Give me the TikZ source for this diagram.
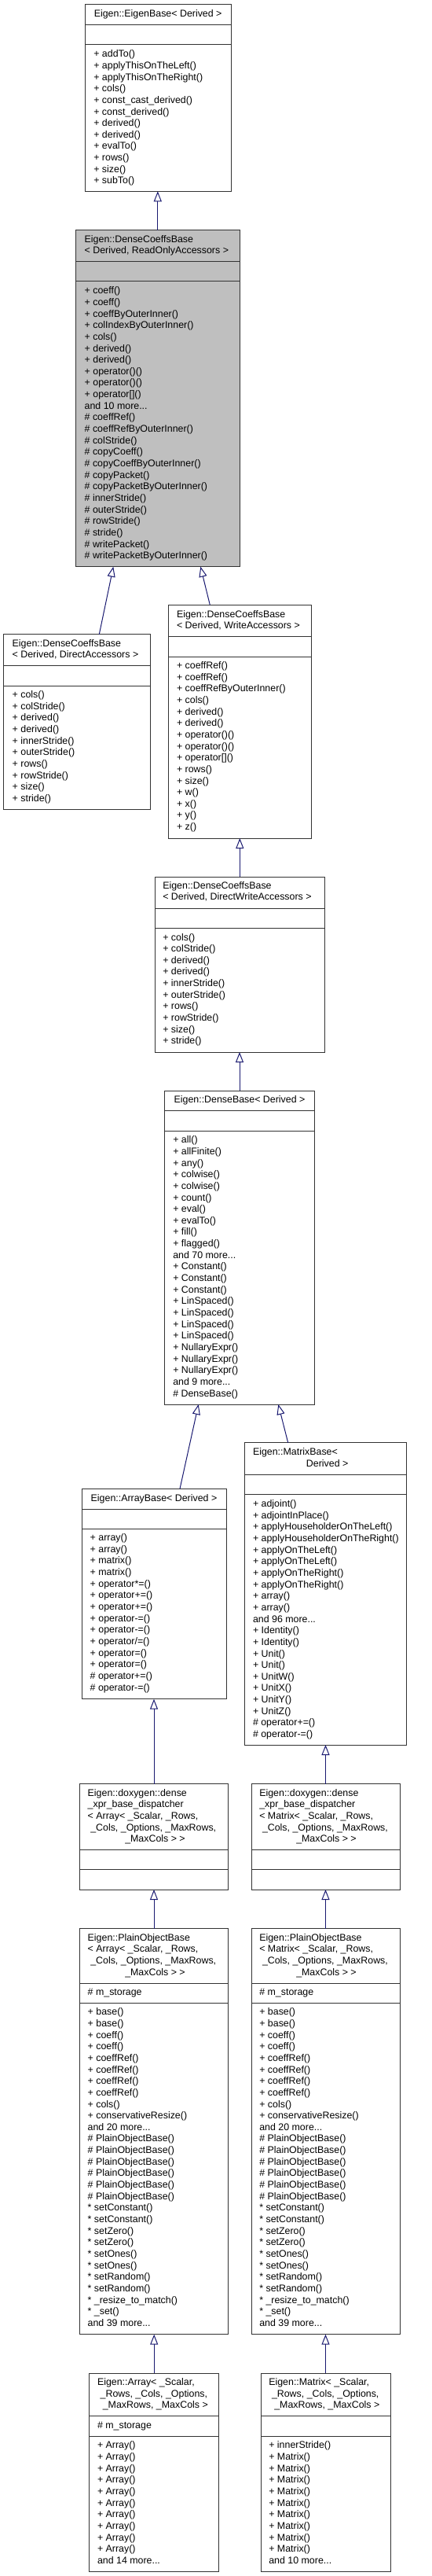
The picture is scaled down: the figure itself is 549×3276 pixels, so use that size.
\documentclass[tikz,border=0pt]{standalone}
\usepackage{fontspec}
\setmainfont{Liberation Sans}
\usetikzlibrary{arrows.meta}
\definecolor{mnb}{HTML}{191970}
\definecolor{hl}{HTML}{BFBFBF}
\definecolor{bline}{HTML}{333333}
\newcommand\mydots{...}
\tikzset{
  clsbox/.style={draw=bline, line width=1pt, inner sep=0pt, outer sep=0pt, anchor=north west},
  divline/.style={draw=bline, line width=1pt},
  txt/.style={inner sep=0pt, outer sep=0pt, text height=9pt, text depth=2.6pt, font=\fontsize{12.4}{14}\selectfont, anchor=west},
  ctxt/.style={txt, anchor=center},
  inh/.style={draw=mnb, line width=1pt, -{Triangle[open, length=13pt, width=10pt]}},
}
% name, left, right, top, div1, div2, bottom, fill
\newcommand\umlbox[8]{%
  \pgfmathsetmacro\bw{#3-#2}\pgfmathsetmacro\bh{#7-#4}%
  \node[clsbox, fill=#8, minimum width=\bw pt, minimum height=\bh pt] (#1) at (#2,#4) {};
  \draw[divline] (#2,#5) -- (#3,#5) (#2,#6) -- (#3,#6);
}
% prefix, x, y0, list
\newcommand\mlist[4]{%
  \foreach \ml [count=\i from 0] in {#4} { \node[txt] (#1-\i) at (#2, {#3+\i*14.66}) {\ml}; }
}
\begin{document}
\begin{tikzpicture}[x=1pt, y=-1pt]
\fill[white] (0,0) rectangle (549,3276);
\useasboundingbox (0,0) rectangle (549,3276);

% A: EigenBase
\umlbox{A}{108.3}{294}{5.7}{31.7}{57}{243.3}{white}
\node[ctxt] (A-t) at (201.15,18) {Eigen::EigenBase< Derived >};
\mlist{A}{119.3}{69.5}{+ addTo(), + applyThisOnTheLeft(), + applyThisOnTheRight(), + cols(), + const\_cast\_derived(), + const\_derived(), + derived(), + derived(), + evalTo(), + rows(), + size(), + subTo()}

% B: DenseCoeffsBase ReadOnly
\umlbox{B}{96.3}{305.3}{292.7}{332.3}{357.7}{720.7}{hl}
\node[txt] (B-t1) at (107.7,305.2) {Eigen::DenseCoeffsBase};
\node[txt] (B-t2) at (107.7,319.2) {< Derived, ReadOnlyAccessors >};
\mlist{B}{107.7}{370.5}{+ coeff(), + coeff(), + coeffByOuterInner(), + colIndexByOuterInner(), + cols(), + derived(), + derived(), + operator()(), + operator()(), + operator[](), and 10 more\mydots, \# coeffRef(), \# coeffRefByOuterInner(), \# colStride(), \# copyCoeff(), \# copyCoeffByOuterInner(), \# copyPacket(), \# copyPacketByOuterInner(), \# innerStride(), \# outerStride(), \# rowStride(), \# stride(), \# writePacket(), \# writePacketByOuterInner()}

% C: DirectAccessors
\umlbox{C}{4.3}{191.7}{806.7}{846.3}{872}{1029.3}{white}
\node[txt] (C-t1) at (15.7,819.2) {Eigen::DenseCoeffsBase};
\node[txt] (C-t2) at (15.7,833.2) {< Derived, DirectAccessors >};
\mlist{C}{15.7}{884.2}{+ cols(), + colStride(), + derived(), + derived(), + innerStride(), + outerStride(), + rows(), + rowStride(), + size(), + stride()}

% D: WriteAccessors
\umlbox{D}{214.3}{396}{769.3}{809.3}{835}{1066}{white}
\node[txt] (D-t1) at (225,781.8) {Eigen::DenseCoeffsBase};
\node[txt] (D-t2) at (225,796.7) {< Derived, WriteAccessors >};
\mlist{D}{225}{847.2}{+ coeffRef(), + coeffRef(), + coeffRefByOuterInner(), + cols(), + derived(), + derived(), + operator()(), + operator()(), + operator[](), + rows(), + size(), + w(), + x(), + y(), + z()}

% E: DirectWriteAccessors
\umlbox{E}{197.3}{413.3}{1115}{1155}{1180.7}{1338}{white}
\node[txt] (E-t1) at (207.3,1127.2) {Eigen::DenseCoeffsBase};
\node[txt] (E-t2) at (207.3,1141.7) {< Derived, DirectWriteAccessors >};
\mlist{E}{207.3}{1192.8}{+ cols(), + colStride(), + derived(), + derived(), + innerStride(), + outerStride(), + rows(), + rowStride(), + size(), + stride()}

% F: DenseBase
\umlbox{F}{209.7}{400.3}{1387}{1412.7}{1438}{1786}{white}
\node[ctxt] (F-t) at (305,1398.8) {Eigen::DenseBase< Derived >};
\mlist{F}{220.3}{1450.5}{+ all(), + allFinite(), + any(), + colwise(), + colwise(), + count(), + eval(), + evalTo(), + fill(), + flagged(), and 70 more\mydots, + Constant(), + Constant(), + Constant(), + LinSpaced(), + LinSpaced(), + LinSpaced(), + LinSpaced(), + NullaryExpr(), + NullaryExpr(), + NullaryExpr(), and 9 more\mydots, \# DenseBase()}

% G: ArrayBase
\umlbox{G}{104}{288}{1893.3}{1919}{1944.7}{2160.7}{white}
\node[ctxt] (G-t) at (196,1906.2) {Eigen::ArrayBase< Derived >};
\mlist{G}{114.7}{1956.2}{+ array(), + array(), + matrix(), + matrix(), + operator*=(), + operator+=(), + operator+=(), + operator-=(), + operator-=(), + operator/=(), + operator=(), + operator=(), \# operator+=(), \# operator-=()}

% H: MatrixBase
\umlbox{H}{311.3}{517.3}{1834.7}{1875}{1900.3}{2219}{white}
\node[txt] (H-t1) at (322,1847.2) {Eigen::MatrixBase<};
\node[ctxt] (H-t2) at (416.7,1862.2) {Derived >};
\mlist{H}{322}{1913.2}{+ adjoint(), + adjointInPlace(), + applyHouseholderOnTheLeft(), + applyHouseholderOnTheRight(), + applyOnTheLeft(), + applyOnTheLeft(), + applyOnTheRight(), + applyOnTheRight(), + array(), + array(), and 96 more\mydots, + Identity(), + Identity(), + Unit(), + Unit(), + UnitW(), + UnitX(), + UnitY(), + UnitZ(), \# operator+=(), \# operator-=()}

% I: dispatcher Array
\umlbox{I}{101.3}{290.7}{2268.7}{2352.7}{2377.7}{2403}{white}
\node[txt] (I-t1) at (111.7,2281.2) {Eigen::doxygen::dense};
\node[txt] (I-t2) at (111.7,2295.2) {\_xpr\_base\_dispatcher};
\node[txt] (I-t3) at (111.7,2310.2) {< Array< \_Scalar, \_Rows,};
\node[txt] (I-t4) at (115.3,2325.2) {\_Cols, \_Options, \_MaxRows,};
\node[ctxt] (I-t5) at (197.5,2339.2) {\_MaxCols > >};

% J: dispatcher Matrix
\umlbox{J}{320}{509}{2268.7}{2352.7}{2377.7}{2403}{white}
\node[txt] (J-t1) at (330.3,2281.2) {Eigen::doxygen::dense};
\node[txt] (J-t2) at (330.3,2295.2) {\_xpr\_base\_dispatcher};
\node[txt] (J-t3) at (330.3,2310.2) {< Matrix< \_Scalar, \_Rows,};
\node[txt] (J-t4) at (334,2325.2) {\_Cols, \_Options, \_MaxRows,};
\node[ctxt] (J-t5) at (415.5,2339.2) {\_MaxCols > >};

% K: PlainObjectBase Array
\umlbox{K}{101.3}{290.7}{2452.7}{2522}{2547.3}{2968.7}{white}
\node[txt] (K-t1) at (111.7,2464.8) {Eigen::PlainObjectBase};
\node[txt] (K-t2) at (111.7,2479.2) {< Array< \_Scalar, \_Rows,};
\node[txt] (K-t3) at (115.3,2493.8) {\_Cols, \_Options, \_MaxRows,};
\node[ctxt] (K-t4) at (197.5,2508.8) {\_MaxCols > >};
\node[txt] (K-a) at (111.7,2534.2) {\# m\_storage};
\mlist{K}{111.7}{2559.5}{+ base(), + base(), + coeff(), + coeff(), + coeffRef(), + coeffRef(), + coeffRef(), + coeffRef(), + cols(), + conservativeResize(), and 20 more\mydots, \# PlainObjectBase(), \# PlainObjectBase(), \# PlainObjectBase(), \# PlainObjectBase(), \# PlainObjectBase(), \# PlainObjectBase(), * setConstant(), * setConstant(), * setZero(), * setZero(), * setOnes(), * setOnes(), * setRandom(), * setRandom(), * \_resize\_to\_match(), * \_set(), and 39 more\mydots}

% L: PlainObjectBase Matrix
\umlbox{L}{320}{509}{2452.7}{2522}{2547.3}{2968.7}{white}
\node[txt] (L-t1) at (330.3,2464.8) {Eigen::PlainObjectBase};
\node[txt] (L-t2) at (330.3,2479.2) {< Matrix< \_Scalar, \_Rows,};
\node[txt] (L-t3) at (334,2493.8) {\_Cols, \_Options, \_MaxRows,};
\node[ctxt] (L-t4) at (415.5,2508.8) {\_MaxCols > >};
\node[txt] (L-a) at (330.3,2534.2) {\# m\_storage};
\mlist{L}{330.3}{2559.5}{+ base(), + base(), + coeff(), + coeff(), + coeffRef(), + coeffRef(), + coeffRef(), + coeffRef(), + cols(), + conservativeResize(), and 20 more\mydots, \# PlainObjectBase(), \# PlainObjectBase(), \# PlainObjectBase(), \# PlainObjectBase(), \# PlainObjectBase(), \# PlainObjectBase(), * setConstant(), * setConstant(), * setZero(), * setZero(), * setOnes(), * setOnes(), * setRandom(), * setRandom(), * \_resize\_to\_match(), * \_set(), and 39 more\mydots}

% M: Array
\umlbox{M}{113.7}{278.7}{3018}{3072.7}{3098.3}{3270}{white}
\node[txt] (M-t1) at (124,3030.2) {Eigen::Array< \_Scalar,};
\node[txt] (M-t2) at (127.7,3045.2) {\_Rows, \_Cols, \_Options,};
\node[ctxt] (M-t3) at (197.8,3059.2) {\_MaxRows, \_MaxCols >};
\node[txt] (M-a) at (124,3085.5) {\# m\_storage};
\mlist{M}{124}{3110.5}{+ Array(), + Array(), + Array(), + Array(), + Array(), + Array(), + Array(), + Array(), + Array(), + Array(), and 14 more\mydots}

% N: Matrix
\umlbox{N}{332}{497}{3018}{3072.7}{3098.3}{3270}{white}
\node[txt] (N-t1) at (342.3,3030.2) {Eigen::Matrix< \_Scalar,};
\node[txt] (N-t2) at (346,3045.2) {\_Rows, \_Cols, \_Options,};
\node[ctxt] (N-t3) at (416.3,3059.2) {\_MaxRows, \_MaxCols >};
\mlist{N}{342.3}{3110.5}{+ innerStride(), + Matrix(), + Matrix(), + Matrix(), + Matrix(), + Matrix(), + Matrix(), + Matrix(), + Matrix(), + Matrix(), and 10 more\mydots}

% inheritance arrows
\draw[inh] (B.north) -- (B.north |- A.south);
\draw[inh] ([xshift=28.3pt]C.north) -- ([xshift=-56.5pt]B.south);
\draw[inh] ([xshift=-37.85pt]D.north) -- ([xshift=54.5pt]B.south);
\draw[inh] (E.north) -- (E.north |- D.south);
\draw[inh] (F.north) -- (F.north |- E.south);
\draw[inh] ([xshift=33pt]G.north) -- ([xshift=-52.3pt]F.south);
\draw[inh] ([xshift=-47.6pt]H.north) -- ([xshift=49.3pt]F.south);
\draw[inh] (I.north) -- (I.north |- G.south);
\draw[inh] (J.north) -- (J.north |- H.south);
\draw[inh] (K.north) -- (K.north |- I.south);
\draw[inh] (L.north) -- (L.north |- J.south);
\draw[inh] (M.north) -- (M.north |- K.south);
\draw[inh] (N.north) -- (N.north |- L.south);
\end{tikzpicture}
\end{document}
